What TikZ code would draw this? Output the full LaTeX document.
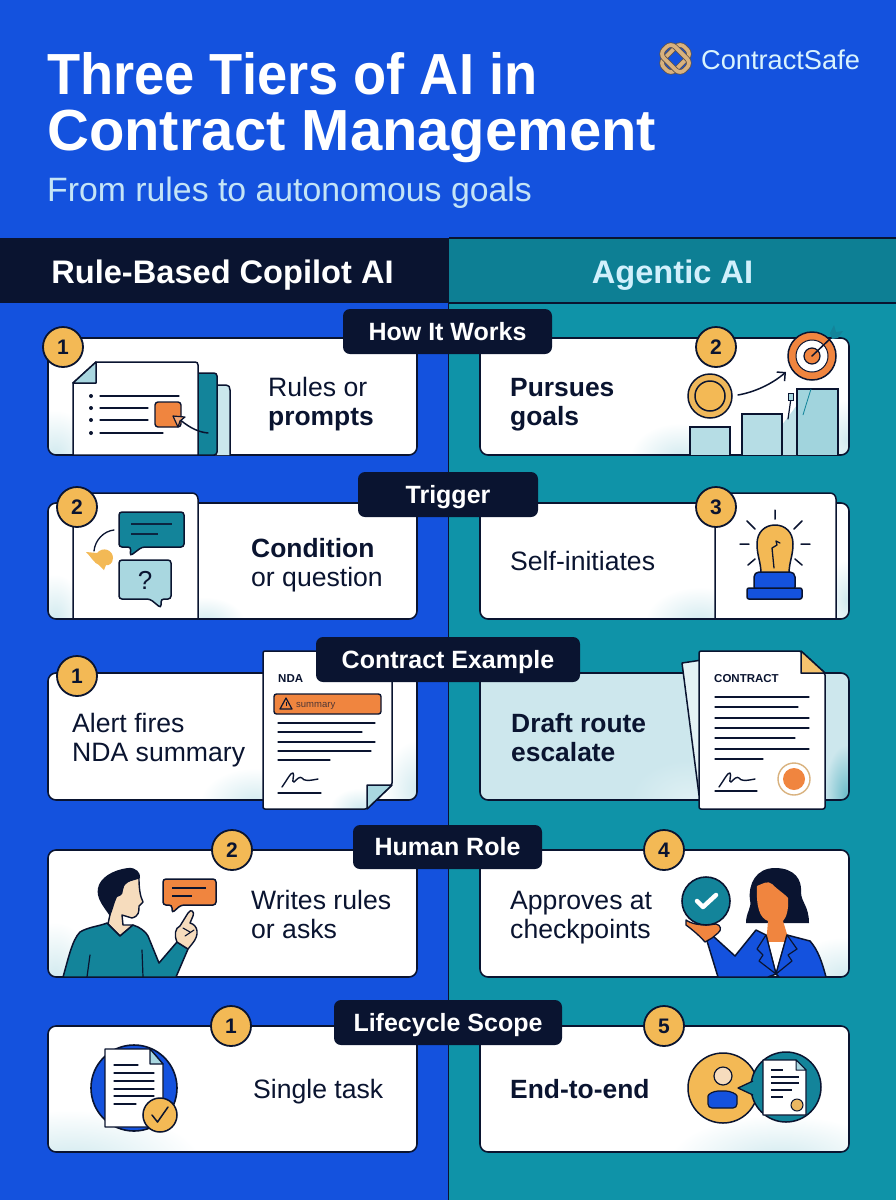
\documentclass[tikz,border=0pt]{standalone}
\usepackage{fontspec}
\usetikzlibrary{arrows.meta}
\setmainfont{Liberation Sans}
\definecolor{bluebg}{HTML}{1452DE}
\definecolor{tealbg}{HTML}{0F93A8}
\definecolor{tealhd}{HTML}{0D7F94}
\definecolor{ink}{HTML}{0A1430}
\definecolor{amber}{HTML}{F3B955}
\definecolor{orng}{HTML}{F0853F}
\definecolor{pale}{HTML}{A9D7E0}
\definecolor{glow}{HTML}{D2EAEF}
\definecolor{palecard}{HTML}{CDE7ED}
\definecolor{tealdk}{HTML}{13849A}
\definecolor{skin}{HTML}{F6DCBD}
\definecolor{tan}{HTML}{D9B27E}
\definecolor{subtl}{HTML}{C4E4F6}
\tikzset{
  ln/.style={draw=ink,line width=1.5pt,line cap=round,line join=round},
  thinln/.style={draw=ink,line width=1.3pt,line cap=round},
  badge/.style={circle,draw=ink,line width=1.8pt,fill=amber,minimum size=40pt,inner sep=0pt,font=\fontsize{21}{21}\selectfont\bfseries,text=ink},
  pill/.style={fill=ink,rounded corners=7pt,inner sep=0pt,text=white,text height=17pt,text depth=0pt,font=\fontsize{25}{25}\selectfont\bfseries},
  body/.style={anchor=base west,inner sep=0pt,text=ink,font=\fontsize{26.6}{26}\selectfont},
  bodyb/.style={body,font=\fontsize{26.4}{26}\selectfont\bfseries},
  head/.style={anchor=base,inner sep=0pt,font=\fontsize{32.6}{32}\selectfont\bfseries},
  ttl/.style={anchor=base west,inner sep=0pt,text=white,font=\fontsize{58}{58}\selectfont\bfseries},
}
\newcommand\cardat[6][white]{% fill, x1,y1,x2,y2, glows
  \fill[#1,rounded corners=8pt] (#2,#3) rectangle (#4,#5);
  \begin{scope}
    \clip[rounded corners=8pt] (#2,#3) rectangle (#4,#5);
    #6
  \end{scope}
  \draw[draw=ink,line width=1.6pt,rounded corners=8pt] (#2,#3) rectangle (#4,#5);
}
\newcommand\fglow[5][white]{\shade[inner color=glow,outer color=#1] (#2,#3) ellipse (#4pt and #5pt);}
\newcommand\sigmark[2]{%
  \draw[ln,line width=1.4pt] (#1,#2) .. controls (#1+5,#2-7) and (#1+9,#2-15) .. (#1+11,#2-14)
    .. controls (#1+13,#2-13) and (#1+9,#2-4) .. (#1+12,#2-5)
    .. controls (#1+15,#2-8) and (#1+18,#2-11) .. (#1+20,#2-9)
    .. controls (#1+22,#2-6) and (#1+26,#2-6) .. (#1+36,#2-8);
}
\begin{document}
\begin{tikzpicture}[x=1pt,y=-1pt]
\useasboundingbox (0,0) rectangle (896,1200);
% backgrounds
\fill[bluebg] (0,0) rectangle (896,1200);
\fill[tealbg] (449,238) rectangle (896,1200);
\fill[ink] (0,238) rectangle (448,303);
\fill[tealhd] (449,238) rectangle (896,303);
\draw[ink,line width=1.2pt] (449,238) -- (896,238) (449,303) -- (896,303);
\draw[ink,line width=1.4pt] (448.5,238) -- (448.5,1200);
% titles
\node[ttl] (title1) at (47,94) {\scalebox{.935}[1]{Three Tiers of AI in}};
\node[ttl] (title2) at (47,150) {Contract Management};
\node[anchor=base west,inner sep=0pt,text=subtl,font=\fontsize{33.8}{34}\selectfont] (subtitle) at (47,201) {From rules to autonomous goals};
% logo
\begin{scope}[rotate around={45:(675.5,58.5)}]
\draw[ink!60!tan,line width=5.4pt,rounded corners=6pt] (661,50.5) rectangle (690,66.5);
\draw[tan,line width=3.8pt,rounded corners=6pt] (661,50.5) rectangle (690,66.5);
\end{scope}
\begin{scope}[rotate around={-45:(675.5,58.5)}]
\draw[ink!60!tan,line width=5.4pt,rounded corners=6pt] (661,50.5) rectangle (690,66.5);
\draw[tan,line width=3.8pt,rounded corners=6pt] (661,50.5) rectangle (690,66.5);
\end{scope}
\node[anchor=base west,inner sep=0pt,text=white!85!cyan,font=\fontsize{27.2}{27}\selectfont] (brand) at (701,69) {ContractSafe};
% column heads
\node[head,text=white] (headl) at (222.5,283) {Rule-Based Copilot AI};
\node[head,text=white!82!cyan] (headr) at (672.5,283) {Agentic AI};

% ---------- row 1
\cardat{48}{338}{417}{455}{\fglow{55}{455}{40}{45}}
\cardat{480}{338}{849}{455}{\fglow{680}{458}{50}{35}\fglow{846}{440}{25}{40}}
% doc with back pages
\fill[pale!60!white] (215,385) -- (226,385) .. controls (229,385) and (230,387) .. (230,390) -- (230,455) -- (215,455) -- cycle;
\draw[ln] (215,385) -- (226,385) .. controls (229,385) and (230,387) .. (230,390) -- (230,455);
\path[fill=tealdk,draw=ink,line width=1.5pt,rounded corners=3pt] (195,373) -- (217,373) -- (217,455) -- (195,455);
\path[fill=white,draw=ink,line width=1.5pt] (73,383) -- (96,362) -- (195,362) .. controls (197,362) and (198,363) .. (198,365) -- (198,455) -- (73,455) -- cycle;
\path[fill=pale,draw=ink,line width=1.5pt,line join=round] (73,383) -- (96,383) -- (96,362) -- cycle;
\foreach \yy/\xe in {396/179,408/148,420/148,433/163}{
  \fill[ink] (91,\yy) circle (2pt);
  \draw[thinln] (100,\yy) -- (\xe,\yy);
}
\path[fill=orng,draw=ink,line width=1.4pt,rounded corners=3pt] (155,402) rectangle (181,427);
\draw[ln] (208,433) .. controls (196,432) and (186,425) .. (178,418);
\path[fill=orng!70!white,draw=ink,line width=1.2pt,line join=round] (173,416) -- (185,417) -- (180,421) -- (178,427) -- cycle;
\node[body] (t1a) at (268,396) {Rules or};
\node[bodyb] (t1b) at (268,425) {prompts};
% goal side
\path[fill=amber!85!tan,draw=ink,line width=1.5pt] (710,396) circle (22pt);
\path[fill=amber,draw=ink,line width=1.5pt] (710,396) circle (15pt);
\draw[ln,-{Straight Barb[length=6pt]}] (738,395) .. controls (755,392) and (772,384) .. (786,372);
\fill[pale!75!white] (782,455) -- (782,425) -- (797,405) -- (797,455) -- cycle;
\path[fill=pale!85!white,draw=ink,line width=1.4pt] (690,455) -- (690,427) -- (730,427) -- (730,455);
\path[fill=pale!85!white,draw=ink,line width=1.4pt] (742,455) -- (742,414) -- (782,414) -- (782,455);
\path[fill=pale!95!tealbg,draw=ink,line width=1.4pt] (797,455) -- (797,389) -- (838,389) -- (838,455);
\draw[draw=tealdk,line width=.8pt] (811,389) -- (806,405) -- (803,415);
\draw[ln,line width=1.2pt] (788,419) -- (791,398);
\path[fill=pale,draw=ink,line width=1pt] (788,393) rectangle (793,400);
\path[fill=orng,draw=ink,line width=1.5pt] (812,356) circle (24pt);
\path[fill=white,draw=ink,line width=1pt] (812,356) circle (16pt);
\path[fill=orng,draw=ink,line width=1.2pt] (812,356) circle (8pt);
\draw[ln] (812,356) -- (832,337);
\fill[tealdk] (830,333) -- (834,325) -- (836,332) -- (843,331) -- (838,338) -- (832,339) -- cycle;
\node[bodyb] (t2a) at (510,396) {Pursues};
\node[bodyb] (t2b) at (510,425) {goals};

% ---------- row 2
\cardat{48}{503}{417}{619}{\fglow{55}{619}{30}{45}\fglow{205}{622}{40}{25}}
\cardat{480}{503}{849}{619}{\fglow{700}{622}{55}{35}\fglow{846}{600}{20}{40}}
\path[fill=white,draw=ink,line width=1.5pt,rounded corners=6pt] (73,619) -- (73,493) -- (198,493) -- (198,619);
\draw[ink,line width=1.6pt] (73,619) -- (198,619);
\path[fill=tealdk,draw=ink,line width=1.5pt,rounded corners=3pt] (119,512) -- (184,512) -- (184,547) -- (142,547) -- (130,556) -- (131,547) -- (119,547) -- cycle;
\draw[draw=ink!85!tealdk,line width=1.3pt] (131,524) -- (172,524) (131,534) -- (158,534);
\path[fill=pale,draw=ink,line width=1.5pt,rounded corners=3pt] (119,560) -- (171,560) -- (171,599) -- (161,599) -- (161,608) -- (150,599) -- (119,599) -- cycle;
\node[inner sep=0pt,text=ink,font=\fontsize{26}{26}\selectfont] (qmark) at (145,580) {?};
\fill[amber] (86,552) -- (97,553) .. controls (103,546) and (113,550) .. (113,558) .. controls (113,564) and (108,566) .. (106,565) -- (104,570) -- (99,565) .. controls (94,563) and (92,558) .. (86,552) -- cycle;
\draw[ln,line width=1.3pt] (114,530) .. controls (104,531) and (95,540) .. (94,551);
\node[bodyb] (t3a) at (251,557) {Condition};
\node[body] (t3b) at (251,586) {or question};
% bulb panel
\path[fill=white,draw=ink,line width=1.5pt,rounded corners=6pt] (715,619) -- (715,493) -- (836,493) -- (836,619);
\draw[ink,line width=1.6pt] (715,619) -- (836,619);
\path[fill=amber,draw=ink,line width=1.5pt] (761,574) .. controls (761,562) and (757,556) .. (757,544) .. controls (757,532) and (765,525) .. (775,525) .. controls (785,525) and (793,532) .. (793,544) .. controls (793,556) and (789,562) .. (789,574) -- cycle;
\draw[ln,line width=1.3pt] (774,568) -- (772,548) -- (777,545) -- (776,541) -- (780,543);
\path[fill=bluebg,draw=ink,line width=1.5pt,rounded corners=5pt] (754,592) -- (754,572) -- (795,572) -- (795,592) -- cycle;
\path[fill=bluebg,draw=ink,line width=1.5pt,rounded corners=2pt] (747,588) rectangle (802,599);
\draw[ln] (775,510) -- (775,519) (747,521) -- (755,529) (802,521) -- (794,529) (740,544) -- (749,544) (801,544) -- (810,544) (748,565) -- (755,559) (802,565) -- (795,559);
\node[body] (t4a) at (510,570) {Self-initiates};

% ---------- row 3
\cardat{48}{673}{417}{800}{\fglow{255}{803}{55}{35}\fglow{418}{790}{35}{50}}
\cardat[palecard]{480}{673}{849}{800}{\shade[inner color=glow!70!white,outer color=palecard] (690,800) ellipse (60pt and 40pt);\shade[inner color=tealbg!50!palecard,outer color=palecard] (846,795) ellipse (22pt and 50pt);}
\node[body] (t5a) at (72,732) {Alert fires};
\node[body] (t5b) at (72,761) {NDA summary};
\node[bodyb] (t6a) at (511,732) {Draft route};
\node[bodyb] (t6b) at (511,761) {escalate};
% NDA doc
\path[fill=white,rounded corners=2pt] (263,651) -- (392,651) -- (392,785) -- (367,809) -- (263,809) -- cycle;
\begin{scope}
  \clip (263,760) -- (392,760) -- (392,785) -- (367,809) -- (263,809) -- cycle;
  \shade[inner color=glow,outer color=white] (360,808) ellipse (30pt and 20pt);
\end{scope}
\path[draw=ink,line width=1.5pt,rounded corners=2pt] (263,651) -- (392,651) -- (392,785) -- (367,809) -- (263,809) -- cycle;
\path[fill=pale,draw=ink,line width=1.5pt,line join=round] (367,809) -- (367,785) .. controls (375,785) and (385,785) .. (392,785) -- cycle;
\node[anchor=base west,inner sep=0pt,text=ink,font=\fontsize{11.5}{12}\selectfont\bfseries] (ndal) at (278,682) {NDA};
\path[fill=orng,draw=ink,line width=1.4pt,rounded corners=2.5pt] (274,694) rectangle (381,714);
\path[draw=ink,line width=1.2pt,line join=round] (280,709) -- (286,698) -- (292,709) -- cycle;
\draw[ink,line width=1pt] (286,702) -- (286,705.5);
\node[anchor=base west,inner sep=0pt,text=ink!70!orng,font=\fontsize{9.5}{10}\selectfont] (ndas) at (296,707) {summary};
\foreach \yy/\xe in {723/375,732/362,742/375,751/371,760/330}{\draw[thinln] (278,\yy) -- (\xe,\yy);}
\sigmark{282}{787}
\draw[thinln] (278,793) -- (321,793);
% contract doc
\path[fill=glow!60!white,draw=ink,line width=1.5pt,line join=round] (682,663) -- (702,660) -- (702,795) -- (699,795) -- cycle;
\path[fill=white,draw=ink,line width=1.5pt,rounded corners=2pt] (699,651) -- (801,651) -- (825,673) -- (825,809) -- (699,809) -- cycle;
\path[fill=amber!85!white,draw=ink,line width=1.5pt,line join=round] (801,651) -- (825,673) -- (801,673) -- cycle;
\node[anchor=base west,inner sep=0pt,text=ink,font=\fontsize{11.5}{12}\selectfont\bfseries] (contl) at (714,682) {CONTRACT};
\foreach \yy/\xe in {697/809,707/798,718/809,728/809,738/795,749/809,759/763}{\draw[thinln] (715,\yy) -- (\xe,\yy);}
\sigmark{719}{787}
\draw[thinln] (715,791) -- (757,791);
\path[fill=white,draw=tan,line width=1.4pt] (794,779) circle (16pt);
\fill[orng] (794,779) circle (11pt);

% ---------- row 4
\cardat{48}{850}{417}{977}{\fglow{55}{977}{40}{55}}
\cardat{480}{850}{849}{977}{\fglow{846}{977}{60}{40}}
% man
\path[fill=skin,draw=ink,line width=1.4pt,line join=round] (108,924) -- (112,905) -- (118,884) -- (139,878) .. controls (139,888) and (140,896) .. (143,902) -- (139,906) .. controls (139,912) and (139,916) .. (132,918) -- (122,915) -- (123,925) -- (133,925) -- (120,936) -- cycle;
\path[fill=ink] (110,916) .. controls (103,906) and (96,898) .. (98,888) .. controls (100,878) and (112,870) .. (128,868) .. controls (136,867) and (141,873) .. (140,878) .. controls (130,880) and (123,884) .. (123,890) .. controls (123,896) and (119,896) .. (117,897) .. controls (114,903) and (113,910) .. (110,916) -- cycle;
\path[fill=tealdk,draw=ink,line width=1.5pt,line join=round] (63,977) .. controls (68,960) and (72,940) .. (80,932) .. controls (88,927) and (100,926) .. (107,923) -- (120,936) -- (133,925) .. controls (140,927) and (146,932) .. (148,936) -- (159,963) -- (177,942) -- (188,949) -- (176,977) -- cycle;
\draw[ln,line width=1.2pt] (90,955) -- (87,977) (142,950) -- (143,977);
\path[fill=skin,draw=ink,line width=1.4pt,line join=round] (177,942) .. controls (174,935) and (175,928) .. (180,926) -- (188,913) .. controls (191,908) and (195,912) .. (193,916) -- (190,923) .. controls (198,925) and (200,935) .. (192,944) -- (188,949) -- cycle;
\draw[ln,line width=1.1pt] (183,928) -- (190,932) (185,936) -- (194,930);
\path[fill=orng,draw=ink,line width=1.5pt,rounded corners=3pt] (163,879) -- (216,879) -- (216,905) -- (181,905) -- (172,913) -- (172,905) -- (163,905) -- cycle;
\draw[ink,line width=1.3pt] (172,888) -- (206,888) (172,896) -- (192,896);
\node[body] (t7a) at (251,909) {Writes rules};
\node[body] (t7b) at (251,938) {or asks};
% woman
\path[fill=ink] (746,923) .. controls (746,912) and (752,908) .. (750,900) .. controls (748,884) and (756,868) .. (775,868) .. controls (795,868) and (802,880) .. (801,892) .. controls (801,902) and (809,906) .. (809,923) -- cycle;
\path[fill=orng] (757,886) .. controls (762,884) and (768,880) .. (772,884) .. controls (778,890) and (786,895) .. (788,898) .. controls (789,910) and (786,918) .. (783,921) -- (787,934) -- (786,945) -- (766,945) -- (768,921) .. controls (760,918) and (756,908) .. (757,886) -- cycle;
\fill[white] (765,942) -- (786,942) -- (776,970) -- cycle;
\path[fill=bluebg,draw=ink,line width=1.5pt,line join=round] (718,977) -- (768,977) -- (776,974) -- (766,935) -- (756,930) -- (735,956) -- (713,936) -- (707,941) -- cycle;
\path[fill=bluebg,draw=ink,line width=1.5pt,line join=round] (776,974) -- (787,935) -- (810,941) .. controls (818,950) and (822,962) .. (826,977) -- (779,977) -- cycle;
\path[fill=bluebg,draw=ink,line width=1.2pt,line join=round] (766,935) -- (757,949) -- (763,955) -- (759,961) -- (776,974) -- cycle;
\path[fill=bluebg,draw=ink,line width=1.2pt,line join=round] (787,935) -- (797,949) -- (788,955) -- (792,961) -- (776,974) -- cycle;
\path[fill=orng,draw=ink,line width=1.3pt,line join=round] (686,920) .. controls (692,924) and (700,926) .. (716,924) .. controls (721,925) and (722,930) .. (718,933) -- (712,938) -- (705,942) .. controls (698,934) and (690,928) .. (686,925) -- cycle;
\path[fill=tealdk,draw=ink,line width=1.6pt] (706,901) circle (24pt);
\draw[draw=white,line width=4.5pt,line cap=round,line join=round] (697,901) -- (703,907) -- (716,895);
\node[body] (t8a) at (510,909) {Approves at};
\node[body] (t8b) at (510,938) {checkpoints};

% ---------- row 5
\cardat{48}{1026}{417}{1152}{\fglow{70}{1160}{130}{50}}
\cardat{480}{1026}{849}{1152}{\fglow{780}{1160}{110}{45}}
\path[fill=bluebg,draw=ink,line width=1.6pt] (134,1088) circle (43pt);
\path[fill=white,draw=ink,line width=1.4pt,line join=round] (105,1049) -- (150,1049) -- (163,1064) -- (163,1127) -- (105,1127) -- cycle;
\path[fill=pale,draw=ink,line width=1.2pt,line join=round] (150,1049) -- (163,1064) -- (150,1064) -- cycle;
\foreach \yy/\xe in {1065/138,1073/154,1081/154,1089/154,1096/154,1104/136}{\draw[thinln] (114,\yy) -- (\xe,\yy);}
\path[fill=amber,draw=ink,line width=1.5pt] (160,1115) circle (17pt);
\draw[ln] (152,1115) -- (157.5,1122) -- (168,1107);
\node[body] (t9) at (253,1098) {Single task};
\path[fill=amber,draw=ink,line width=1.5pt] (723,1088) circle (35pt);
\path[fill=tealdk,draw=ink,line width=1.5pt] (786,1087) circle (35pt);
\path[fill=tealdk,draw=ink,line width=1.3pt,line join=round] (753,1081) -- (738,1088) -- (753,1095);
\fill[tealdk] (750,1083) -- (753,1083) -- (753,1093) -- (750,1093) -- cycle;
\path[fill=skin,draw=ink,line width=1.2pt] (723,1076) circle (9pt);
\path[fill=bluebg,draw=ink,line width=1.2pt,rounded corners=4pt] (708,1108) -- (708,1100) .. controls (708,1094) and (714,1091) .. (722,1091) .. controls (730,1091) and (737,1094) .. (737,1100) -- (737,1108) -- cycle;
\path[fill=white,draw=ink,line width=1.3pt,line join=round] (763,1060) -- (796,1060) -- (806,1070) -- (806,1115) -- (763,1115) -- cycle;
\path[fill=pale,draw=ink,line width=1pt,line join=round] (796,1060) -- (806,1070) -- (796,1070) -- cycle;
\foreach \yy/\xe in {1070/783,1077/799,1083/799,1090/792,1097/783}{\draw[ink,line width=1.1pt] (771,\yy) -- (\xe,\yy);}
\path[fill=amber!70!tan,draw=ink,line width=1pt] (797,1105) circle (6pt);
\node[bodyb] (t10) at (510,1098) {End-to-end};

% ---------- pills
\node[pill,minimum width=209pt,minimum height=45pt] (p1) at (447.5,331.5) {How It Works};
\node[pill,minimum width=180pt,minimum height=45pt] (p2) at (448,494.5) {Trigger};
\node[pill,minimum width=264pt,minimum height=45pt] (p3) at (448,659.5) {Contract Example};
\node[pill,minimum width=189pt,minimum height=44pt] (p4) at (447.5,847) {Human Role};
\node[pill,minimum width=228pt,minimum height=45pt] (p5) at (448,1022.5) {Lifecycle Scope};
% ---------- badges
\node[badge] (b1l) at (63,347) {1};
\node[badge] (b1r) at (716,347) {2};
\node[badge] (b2l) at (77,507) {2};
\node[badge] (b2r) at (716,507) {3};
\node[badge] (b3l) at (77,676) {1};
\node[badge] (b4l) at (232,850) {2};
\node[badge] (b4r) at (664,850) {4};
\node[badge] (b5l) at (231,1026) {1};
\node[badge] (b5r) at (664,1026) {5};
\end{tikzpicture}
\end{document}
